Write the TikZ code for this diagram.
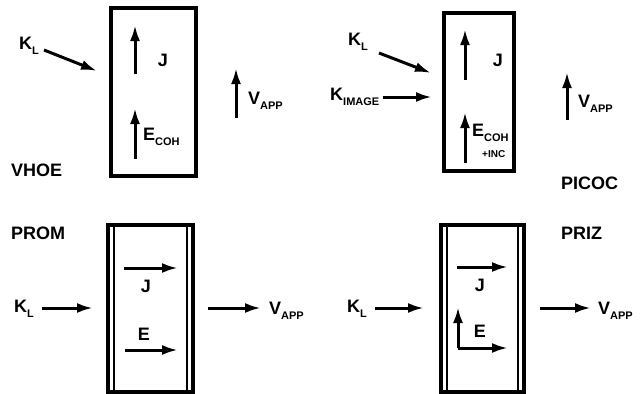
\documentclass[tikz,border=0pt]{standalone}
\usepackage{fontspec}
\setmainfont{Liberation Sans}
\usetikzlibrary{arrows.meta}
\begin{document}
\begin{tikzpicture}[x=1pt,y=-1pt,
  lbl/.style={font=\bfseries\fontsize{18}{18}\selectfont, inner sep=0pt},
  vec/.style={line width=3pt, -{Latex[length=16pt,width=10pt]}},
  box/.style={draw, line width=3.2pt, rectangle, inner sep=0pt},
  inner/.style={line width=2pt}]
\useasboundingbox (0,0) rectangle (641,394);
\newcommand{\sub}[1]{\raisebox{-0.5ex}{\fontsize{11}{11}\selectfont #1}}
% ---------- VHOE ----------
\node[box, minimum width=85pt, minimum height=168pt] (b1) at (153.5,92) {};
\coordinate (j1s) at (135,74); \coordinate (j1e) at (135,25);
\draw[vec] (j1s) -- (j1e);
\node[lbl] (j1) at (163,60) {J};
\coordinate (e1s) at (135,159); \coordinate (e1e) at (135,108);
\draw[vec] (e1s) -- (e1e);
\node[lbl, anchor=west] (e1) at (143,137) {E\sub{COH}};
\node[lbl, anchor=west] (k1) at (19,46) {K\sub{L}};
\coordinate (k1s) at (44,50); \coordinate (k1e) at (97,71);
\draw[vec] (k1s) -- (k1e);
\coordinate (v1s) at (236,118); \coordinate (v1e) at (236,68);
\draw[vec] (v1s) -- (v1e);
\node[lbl, anchor=west] (v1) at (248,101) {V\sub{APP}};
\node[lbl, anchor=west] (n1) at (11,170) {VHOE};
% ---------- PICOC ----------
\node[box, minimum width=70pt, minimum height=158pt] (b2) at (479,92) {};
\coordinate (j2s) at (465,80); \coordinate (j2e) at (465,29);
\draw[vec] (j2s) -- (j2e);
\node[lbl] (j2) at (498,60) {J};
\coordinate (e2s) at (465,163); \coordinate (e2e) at (465,112);
\draw[vec] (e2s) -- (e2e);
\node[lbl, anchor=west] (e2) at (472,133) {E\sub{COH}};
\node[lbl, anchor=west, font=\bfseries\fontsize{10}{10}\selectfont] (e2b) at (482,154) {+INC};
\node[lbl, anchor=west] (k2) at (348,42) {K\sub{L}};
\coordinate (k2s) at (379,53); \coordinate (k2e) at (431,73);
\draw[vec] (k2s) -- (k2e);
\node[lbl, anchor=west] (k3) at (330,97) {K\sub{IMAGE}};
\coordinate (k3s) at (383,97); \coordinate (k3e) at (432,97);
\draw[vec] (k3s) -- (k3e);
\coordinate (v2s) at (567,120); \coordinate (v2e) at (567,72);
\draw[vec] (v2s) -- (v2e);
\node[lbl, anchor=west] (v2) at (578,104) {V\sub{APP}};
\node[lbl, anchor=west] (n2) at (561,183) {PICOC};
% ---------- PROM ----------
\node[box, minimum width=85pt, minimum height=167pt] (b3) at (150.5,308.5) {};
\draw[inner] ([xshift=8pt]b3.north west) -- ([xshift=8pt]b3.south west);
\draw[inner] ([xshift=-8pt]b3.north east) -- ([xshift=-8pt]b3.south east);
\coordinate (j3s) at (124,268); \coordinate (j3e) at (178,268);
\draw[vec] (j3s) -- (j3e);
\node[lbl] (j3) at (146,286) {J};
\node[lbl] (e3) at (144,334) {E};
\coordinate (e3s) at (125,350); \coordinate (e3e) at (178,350);
\draw[vec] (e3s) -- (e3e);
\node[lbl, anchor=west] (k4) at (14,309) {K\sub{L}};
\coordinate (k4s) at (42,308); \coordinate (k4e) at (93,308);
\draw[vec] (k4s) -- (k4e);
\coordinate (v3s) at (208,308); \coordinate (v3e) at (261,308);
\draw[vec] (v3s) -- (v3e);
\node[lbl, anchor=west] (v3) at (269,311) {V\sub{APP}};
\node[lbl, anchor=west] (n3) at (11,233) {PROM};
% ---------- PRIZ ----------
\node[box, minimum width=83pt, minimum height=167pt] (b4) at (482.5,308.5) {};
\draw[inner] ([xshift=8pt]b4.north west) -- ([xshift=8pt]b4.south west);
\draw[inner] ([xshift=-8pt]b4.north east) -- ([xshift=-8pt]b4.south east);
\coordinate (j4s) at (457,267); \coordinate (j4e) at (508,267);
\draw[vec] (j4s) -- (j4e);
\node[lbl] (j4) at (480,285) {J};
\coordinate (c4) at (458,348);
\coordinate (e4v) at (458,307); \coordinate (e4h) at (508,348);
\draw[vec] (c4) -- (e4v);
\draw[vec] (c4) -- (e4h);
\node[lbl] (e4) at (480,331) {E};
\node[lbl, anchor=west] (k5) at (347,309) {K\sub{L}};
\coordinate (k5s) at (375,308); \coordinate (k5e) at (424,308);
\draw[vec] (k5s) -- (k5e);
\coordinate (v4s) at (540,308); \coordinate (v4e) at (591,308);
\draw[vec] (v4s) -- (v4e);
\node[lbl, anchor=west] (v4) at (598,311) {V\sub{APP}};
\node[lbl, anchor=west] (n4) at (561,233) {PRIZ};
\end{tikzpicture}
\end{document}
